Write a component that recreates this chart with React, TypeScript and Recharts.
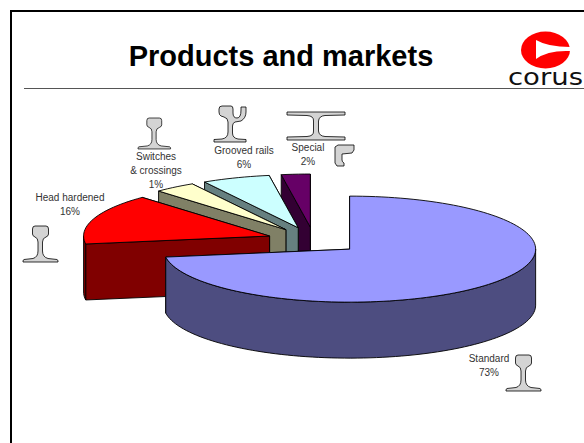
import { Pie, PieChart } from "recharts";

// listed counter-clockwise from 12 o'clock so the front slice paints last
const sliceNames = ["Special", "Grooved rails", "Switches & crossings", "Head hardened", "Standard"];
const sliceValues = [2.5, 5.9, 3.6, 15.4, 72.6];
const topColors = ["#660066", "#CCFFFF", "#FFFFCC", "#FF0000", "#9999FF"];
const wallColors = ["#330033", "#668080", "#808066", "#800000", "#4D4D80"];

const labelLines = [
  ["Special", "2%"],
  ["Grooved rails", "6%"],
  ["Switches", "& crossings", "1%"],
  ["Head hardened", "16%"],
  ["Standard", "73%"],
];
const labelPos = [
  [308, 147],
  [244, 150],
  [156, 156],
  [70, 197],
  [489, 358],
];

const data = sliceNames.map((name, i) => ({ name, value: sliceValues[i] }));

const SQUASH = 0.285;
const DEPTH = 56;
const EXPLODE = 47;
const RAD = Math.PI / 180;

function Slice3D(props: any) {
  const { cx, cy, outerRadius, startAngle, endAngle, index } = props;
  const mid = (startAngle + endAngle) / 2;
  const ax = cx + EXPLODE * Math.cos(mid * RAD);
  const ay = cy - EXPLODE * SQUASH * Math.sin(mid * RAD);
  const pt = (deg: number, drop = 0): [number, number] => [
    ax + outerRadius * Math.cos(deg * RAD),
    ay - outerRadius * SQUASH * Math.sin(deg * RAD) + drop,
  ];
  const arc = (from: number, to: number, drop = 0) => {
    const out: [number, number][] = [];
    const steps = Math.max(2, Math.ceil(Math.abs(to - from) / 2));
    for (let s = 0; s <= steps; s++) out.push(pt(from + ((to - from) * s) / steps, drop));
    return out;
  };
  const toD = (pts: [number, number][]) =>
    "M" + pts.map((p) => `${p[0].toFixed(2)} ${p[1].toFixed(2)}`).join("L") + "Z";
  const face = (deg: number) =>
    toD([[ax, ay], pt(deg), pt(deg, DEPTH), [ax, ay + DEPTH]]);

  // outer wall only where the rim faces the viewer (lower half of the ellipse)
  const walls: string[] = [];
  const lo = Math.max(startAngle, 180);
  const hi = Math.min(endAngle, 360);
  if (hi > lo) {
    walls.push(toD([...arc(lo, hi), ...arc(hi, lo, DEPTH)]));
  }
  const top = toD([[ax, ay], ...arc(startAngle, endAngle)]);
  const common = { stroke: "#000", strokeWidth: 0.9, strokeLinejoin: "round" as const };
  return (
    <g>
      <path d={face(startAngle)} fill={wallColors[index]} {...common} />
      <path d={face(endAngle)} fill={wallColors[index]} {...common} />
      {walls.map((d, i) => (
        <path key={i} d={d} fill={wallColors[index]} {...common} />
      ))}
      <path d={top} fill={topColors[index]} {...common} />
    </g>
  );
}

function sliceLabel(props: any) {
  const [x, y] = labelPos[props.index];
  return (
    <text
      key={props.index}
      textAnchor="middle"
      fontFamily="Liberation Sans"
      fontSize={10}
      fill="#333"
    >
      {labelLines[props.index].map((line, i) => (
        <tspan key={i} x={x} y={y + 3.5 + i * 14.3}>
          {line}
        </tspan>
      ))}
    </text>
  );
}

const RAIL =
  "M12 0H23Q25.5 0 25.5 3V8Q25.5 10 23 11Q19.5 12 19.5 16V25Q19.5 31 25 32.5L34 33.5Q35 34 35 35V36H0V35Q0 34 1 33.5L10 32.5Q15 31 15 25V16Q15 12 12 11Q9.5 10 9.5 8V3Q9.5 0 12 0Z";
const GROOVED =
  "M8 0H17Q19 0 19 3V7Q19 12 23 12Q27 12 27 4V1H32V6Q32 12 27 15L21 16Q18.5 17 18.5 20V27Q18.5 32 24 33L32 33.5V36H0V33.5L8 33Q14 32 14 26V16Q14 12 10 11L7 10Q5 9 5 6V3Q5 0 8 0Z";
const BEAM =
  "M0 0H58V3L38 3.5Q32 4 31.5 9V19Q32 24 38 24.5L58 25V28H0V25L20 24.5Q27 24 26.5 19V9Q27 4 20 3.5L0 3Z";
const ANGLE = "M3 0H19V5L17 8L7 9V15Q7 17 9 18V21H2L0 18V2Z";

const icons: [string, number, number, number, number][] = [
  [RAIL, 23, 226, 1, 1],
  [RAIL, 138, 118, 0.93, 0.86],
  [GROOVED, 214, 106, 1, 1],
  [BEAM, 287, 112, 1, 1],
  [ANGLE, 335, 145, 1, 1],
  [RAIL, 506, 355, 1, 1],
];

export default function App() {
  return (
    <div style={{ position: "fixed", left: 0, top: 0, width: 584, height: 443, background: "#fff" }}>
      <svg width={584} height={443} style={{ position: "absolute", left: 0, top: 0 }}>
        <rect x={10} y={10} width={574} height={2} fill="#000" />
        <rect x={10} y={10} width={2} height={433} fill="#000" />
        <rect x={24} y={88} width={560} height={1} fill="#555" />
        <text x={281} y={66} textAnchor="middle" fontFamily="Liberation Sans" fontWeight="bold" fontSize={29} fill="#000">
          Products and markets
        </text>
        {icons.map(([d, x, y, sx, sy], i) => (
          <path key={i} d={d} transform={`translate(${x} ${y}) scale(${sx} ${sy})`} fill="#D4D4D4" stroke="#000" strokeWidth={0.8} />
        ))}
        {/* corus logo */}
        <ellipse cx={545.5} cy={50} rx={24.5} ry={18.5} fill="#F00" />
        <path d="M536 40Q548 47 570 47V51Q548 50 536 59Z" fill="#fff" />
        <text x={508} y={85} textLength={75} lengthAdjust="spacingAndGlyphs" fontFamily="DejaVu Sans" fontSize={23} fill="#111">
          corus
        </text>
      </svg>
      <div style={{ position: "absolute", left: 0, top: 0 }}>
        <PieChart width={584} height={443} margin={{ top: 0, right: 0, bottom: 0, left: 0 }}>
          <Pie
            data={data}
            dataKey="value"
            nameKey="name"
            cx={314}
            cy={240.4}
            outerRadius={186}
            startAngle={90}
            endAngle={450}
            paddingAngle={0}
            isAnimationActive={false}
            shape={Slice3D}
            label={sliceLabel}
            labelLine={false}
          />
        </PieChart>
      </div>
    </div>
  );
}
